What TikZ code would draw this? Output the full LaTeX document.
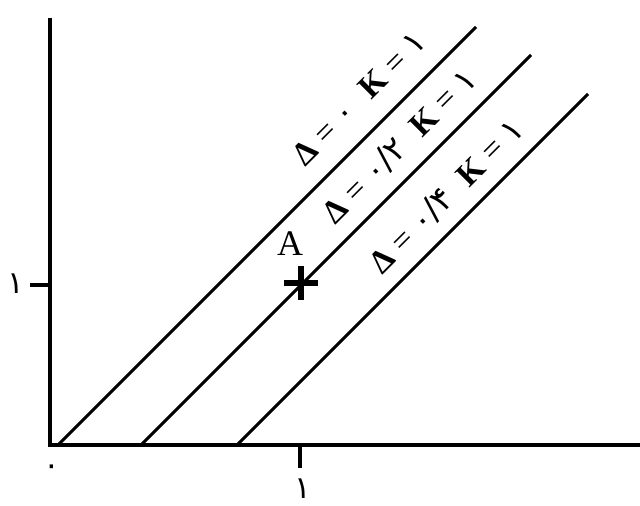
\documentclass[tikz,border=0pt]{standalone}
\usepackage{fontspec}
\setmainfont{Liberation Serif}
\newfontfamily\fa{DejaVu Sans}
\usetikzlibrary{positioning}
\tikzset{
  axisln/.style={draw=black,line width=3.4pt},
  tickln/.style={draw=black,line width=3.4pt},
  iso/.style={draw=black,line width=2.9pt},
  cross/.style={draw=black,line width=6pt},
  lab/.style={rotate=45,inner sep=0pt,font=\fontsize{33}{35}\selectfont},
  num/.style={inner sep=0pt,font=\fa\fontsize{31}{33}\selectfont},
}
\newcommand{\dk}[1]{\textbf{Δ}\;=\;{\fa #1}\;\;\textbf{K}\;=\;{\fa ۱}}

\begin{document}
\begin{tikzpicture}[x=1pt,y=1pt]
  \useasboundingbox (0,0) rectangle (640,506);
  \fill[white] (0,0) rectangle (640,506);
  % axes
  \coordinate (o) at (50,61);
  \coordinate (ytop) at (50,488);
  \coordinate (xend) at (640,61);
  \draw[axisln] (ytop) -- (o) -- (xend);
  % ticks
  \coordinate (y1) at (50,221);
  \coordinate (ty) at (30,221);
  \coordinate (x1) at (300,61);
  \coordinate (tx) at (300,38);
  \draw[tickln] (y1) -- (ty);
  \draw[tickln] (x1) -- (tx);
  \node[num] (n0) at (52,36) {۰};
  \node[num] (ny) at (16,222) {۱};
  \node[num] (nx) at (303,17) {۱};
  % lines
  \coordinate (a1) at (58,61);
  \coordinate (b1) at (476,479);
  \coordinate (a2) at (141,61);
  \coordinate (b2) at (531,451);
  \coordinate (a3) at (237,61);
  \coordinate (b3) at (588,412);
  \foreach \i/\j in {a1/b1,a2/b2,a3/b3}
    \draw[iso] (\i)--(\j);
  \node[lab] (t1) at (359,408) {\dk{۰}};
  \node[lab] (t2) at (400,360) {\dk{۰/۲}};
  \node[lab] (t3) at (447,310) {\dk{۰/۴}};
  % point A
  \coordinate (A) at (301,223);
  \draw[cross] ([xshift=-17pt]A) -- ([xshift=17pt]A);
  \draw[cross] ([yshift=-17pt]A) -- ([yshift=17pt]A);
  \node[inner sep=0pt,font=\fontsize{36}{38}\selectfont] (la) at (290,262) {A};
\end{tikzpicture}
\end{document}
